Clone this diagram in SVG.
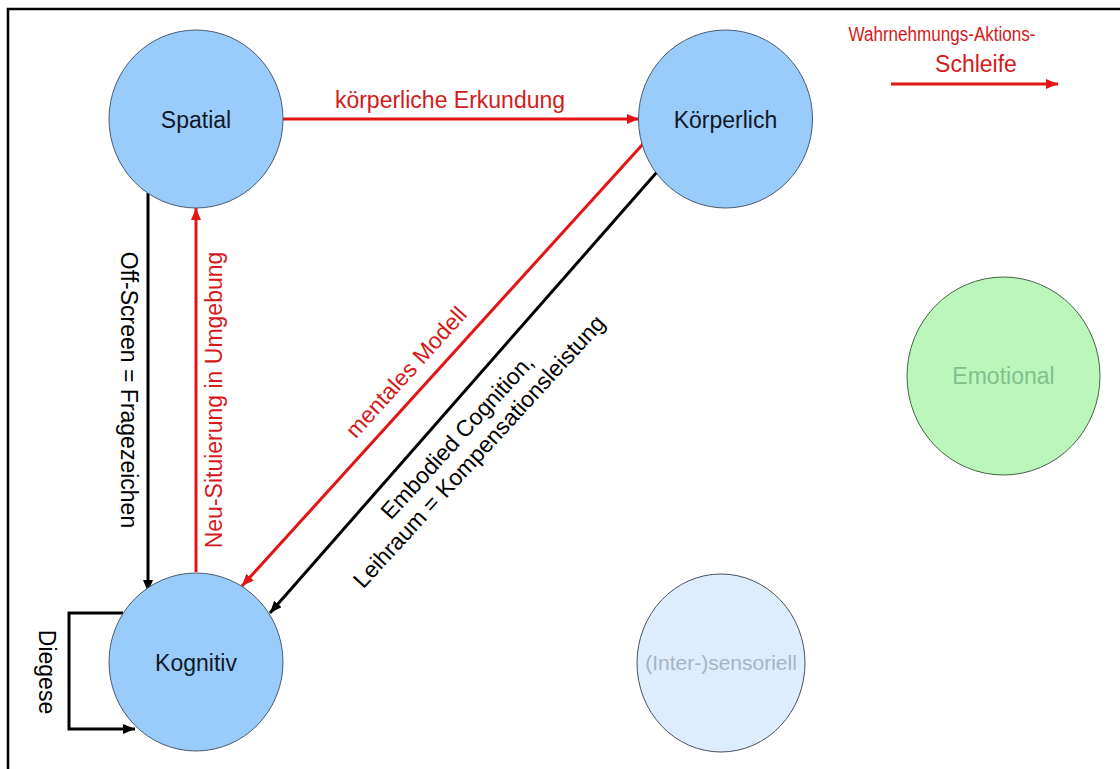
<svg xmlns="http://www.w3.org/2000/svg" width="1120" height="769" viewBox="0 0 1120 769">
  <defs>
    <marker id="head-red" viewBox="0 0 12 10" refX="12" refY="5" markerWidth="12" markerHeight="10" orient="auto" markerUnits="userSpaceOnUse">
      <path d="M0,0 L12,5 L0,10 z" fill="#e31414"/>
    </marker>
    <marker id="head-black" viewBox="0 0 12 10" refX="12" refY="5" markerWidth="12" markerHeight="10" orient="auto" markerUnits="userSpaceOnUse">
      <path d="M0,0 L12,5 L0,10 z" fill="#000"/>
    </marker>
    <style>
      text { font-family: "Liberation Sans", Arial, sans-serif; font-size: 23px; }
      .node { fill: #99ccfa; stroke: #4a5a70; stroke-width: 1; }
      .node-text { fill: #101828; text-anchor: middle; }
      .red-line { stroke: #e31414; stroke-width: 3; fill: none; marker-end: url(#head-red); }
      .black-line { stroke: #000; stroke-width: 3; fill: none; marker-end: url(#head-black); }
      .red-text { fill: #d41a1a; text-anchor: middle; }
      .black-text { fill: #000; text-anchor: middle; }
    </style>
  </defs>

  <rect width="1120" height="769" fill="#fff"/>
  <!-- frame -->
  <rect x="8" y="9" width="1130" height="800" fill="none" stroke="#000" stroke-width="2.5"/>

  <!-- connectors -->
  <g id="connectors">
    <line class="red-line" x1="283" y1="119" x2="639" y2="119"/>
    <text class="red-text" x="450" y="108">körperliche Erkundung</text>

    <line class="black-line" x1="148" y1="193" x2="148" y2="592"/>
    <text class="black-text" transform="translate(121,390) rotate(90)">Off-Screen = Fragezeichen</text>

    <line class="red-line" x1="196" y1="572" x2="196" y2="208"/>
    <text class="red-text" transform="translate(222,400) rotate(-90)">Neu-Situierung in Umgebung</text>

    <line class="red-line" x1="643" y1="144" x2="242" y2="586"/>
    <text class="red-text" transform="translate(406,372) rotate(-47.8)" y="8">mentales Modell</text>

    <line class="black-line" x1="657" y1="172" x2="270" y2="613"/>
    <g transform="translate(468,444) rotate(-47.5)">
      <text class="black-text" x="-2" y="-5">Embodied Cognition,</text>
      <text class="black-text" x="2" y="21">Leihraum = Kompensationsleistung</text>
    </g>

    <path class="black-line" d="M123,613 H69 V729 H135"/>
    <text class="black-text" transform="translate(39,672) rotate(90)">Diegese</text>

    <line class="red-line" x1="891" y1="84" x2="1058" y2="84"/>
    <text class="red-text" x="942" y="41" style="font-size:20px" textLength="187" lengthAdjust="spacingAndGlyphs">Wahrnehmungs-Aktions-</text>
    <text class="red-text" x="976" y="72">Schleife</text>
  </g>

  <!-- nodes -->
  <g id="node-spatial">
    <ellipse class="node" cx="196" cy="119" rx="87" ry="89"/>
    <text class="node-text" x="196" y="128">Spatial</text>
  </g>
  <g id="node-koerperlich">
    <ellipse class="node" cx="725.5" cy="119" rx="87" ry="89"/>
    <text class="node-text" x="725.5" y="128">Körperlich</text>
  </g>
  <g id="node-kognitiv">
    <ellipse class="node" cx="196" cy="662" rx="87" ry="89"/>
    <text class="node-text" x="196" y="671">Kognitiv</text>
  </g>
  <g id="node-intersensoriell">
    <ellipse cx="721" cy="663" rx="84" ry="89" fill="#deedfd" stroke="#4a5060" stroke-width="1"/>
    <text x="721" y="670" fill="#a6b4c6" text-anchor="middle" style="font-size:21px">(Inter-)sensoriell</text>
  </g>
  <g id="node-emotional">
    <ellipse cx="1003.5" cy="376" rx="96.5" ry="99" fill="#bbf7bb" stroke="#4a604a" stroke-width="1"/>
    <text x="1003.5" y="384" fill="#80c08c" text-anchor="middle">Emotional</text>
  </g>
</svg>
